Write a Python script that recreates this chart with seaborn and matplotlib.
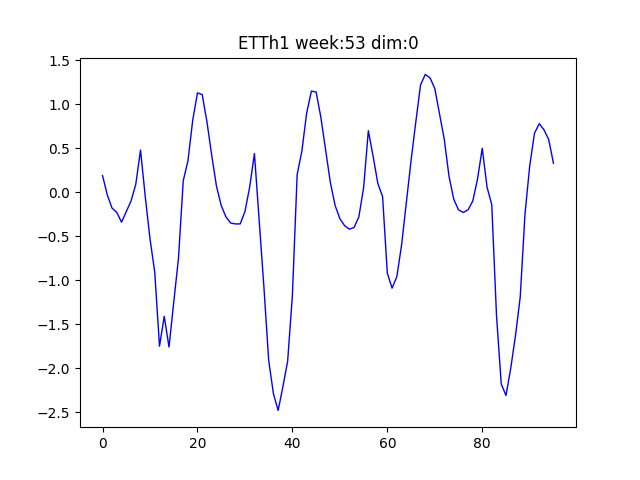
import numpy as np
import pandas as pd
import matplotlib
matplotlib.use("Agg")
import matplotlib.pyplot as plt
import seaborn as sns

# DATA
title = "ETTh1 week:53 dim:0"
values = [0.19, -0.03, -0.18, -0.23, -0.34, -0.22, -0.10, 0.09, 0.48, -0.05,
          -0.53, -0.91, -1.75, -1.41, -1.76, -1.25, -0.75, 0.13, 0.36, 0.82,
          1.13, 1.11, 0.80, 0.42, 0.07, -0.15, -0.28, -0.35, -0.36, -0.36,
          -0.22, 0.06, 0.44, -0.32, -1.08, -1.91, -2.29, -2.48, -2.21, -1.92,
          -1.17, 0.20, 0.47, 0.90, 1.15, 1.14, 0.85, 0.48, 0.11, -0.15,
          -0.30, -0.38, -0.42, -0.40, -0.28, 0.05, 0.70, 0.41, 0.10, -0.05,
          -0.92, -1.09, -0.96, -0.60, -0.12, 0.36, 0.80, 1.22, 1.34, 1.30,
          1.18, 0.89, 0.60, 0.18, -0.08, -0.20, -0.23, -0.20, -0.10, 0.15,
          0.50, 0.06, -0.14, -1.40, -2.18, -2.31, -2.00, -1.63, -1.19, -0.25,
          0.30, 0.67, 0.78, 0.71, 0.60, 0.33]
steps = np.arange(len(values))

df = pd.DataFrame({"step": steps, "value": values})

# PLOTTING
fig, ax = plt.subplots(figsize=(6.4, 4.8), dpi=100)
sns.lineplot(data=df, x="step", y="value", ax=ax, color="blue", linewidth=1)
ax.set_title(title)
ax.set_xlabel("")
ax.set_ylabel("")

fig.savefig("out.png")
